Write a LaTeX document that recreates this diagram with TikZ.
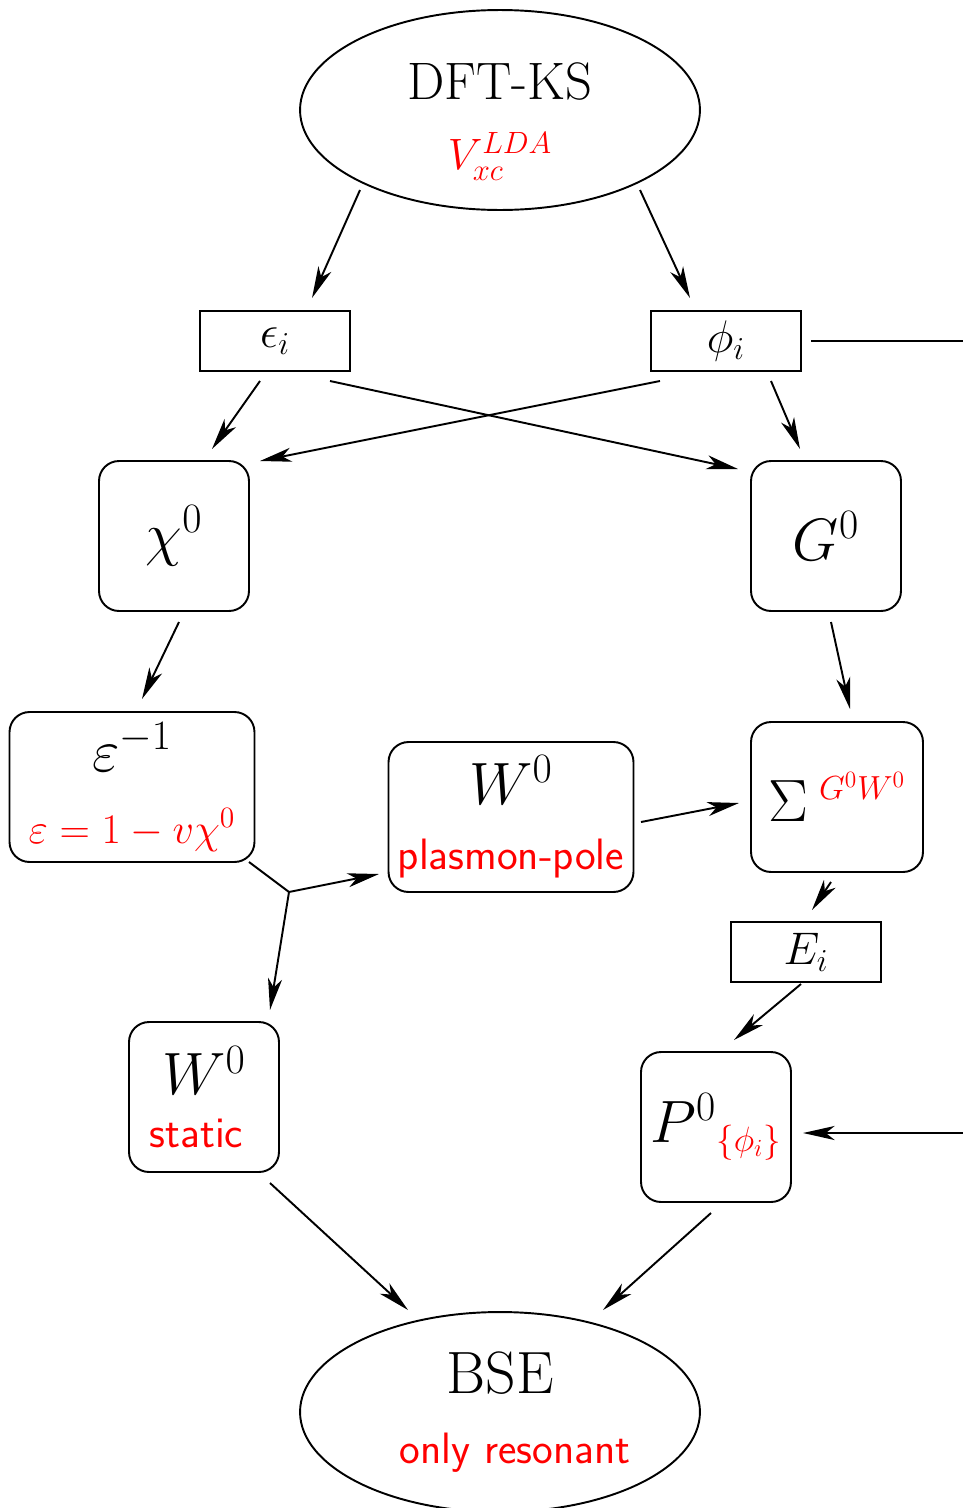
\documentclass[tikz,border=0pt]{standalone}
\usepackage{fix-cm}
\usepackage{xcolor}
\usepackage{tikz}
\usepackage{amsmath}
\usepackage{amssymb}
\usetikzlibrary{arrows.meta,calc,shapes.geometric}

\newcommand{\redsub}[2]{\mbox{\fontsize{#1}{#1}\selectfont\color{red}$#2$}}
\newcommand{\rtext}[1]{{\color{red}\fontsize{25}{25}\sffamily\selectfont #1}}

\begin{document}
\begin{tikzpicture}[
  x=0.02cm,y=-0.02cm,
  line width=1.1pt,
  >={Stealth[length=18pt,width=8pt,inset=5pt]},
  stage/.style={ellipse,draw,minimum width=8cm,minimum height=4cm,inner sep=0pt,align=center,font=\fontsize{30}{40}\selectfont},
  qty/.style={draw,minimum width=3cm,minimum height=1.2cm,inner sep=0pt,font=\fontsize{26}{30}\selectfont},
  op/.style={draw,rounded corners=0.4cm,minimum width=3cm,minimum height=3cm,inner sep=0pt,align=center,font=\fontsize{34}{37}\selectfont},
  line/.style={->}
]
\useasboundingbox (0,0) rectangle (963,1508);

% ---- stages ----
\node[stage] (dft) at (500,110) {\rule{0pt}{34pt}DFT-KS\\{\color{red}\fontsize{25}{25}\selectfont$V_{xc}^{LDA}$}};
\node[stage,font=\fontsize{34}{40}\selectfont] (bse) at (500,1412) {BSE\\\hspace*{0.6cm}\rtext{only resonant}};

% ---- KS quantities ----
\node[qty] (eps) at (275,341) {$\epsilon_i$};
\node[qty] (phi) at (726,341) {$\phi_i$};
\node[qty] (ener) at (806,952) {$E_i$};

% ---- operators ----
\node[op] (chi) at (174,536) {$\chi^0$};
\node[op] (gf) at (826,536) {$G^0$};
\node[op,minimum width=4.9cm,font=\fontsize{34}{41}\selectfont] (epsinv) at (132,787)
  {$\varepsilon^{-1}$\\{\color{red}\fontsize{24}{24}\selectfont$\varepsilon=1-v\chi^0$}};
\node[op,minimum width=4.9cm,font=\fontsize{34}{37}\selectfont] (wpp) at (511,817) {$W^0$\\\rtext{plasmon-pole}};
\node[op,minimum width=3.44cm] (sig) at (837,797) {$\Sigma^{\redsub{19}{\mkern6mu G^0W^0}}$};
\node[op,font=\fontsize{34}{30}\selectfont] (wst) at (204,1097) {$W^0$\\\rtext{static}\hspace*{0.3cm}};
\node[op] (pol) at (716,1127) {$P^0{}_{\redsub{20}{\{\phi_i\}}}$};

% ---- DFT outputs ----
\draw[line] ($(dft)+(-140,80)$) -- ($(eps)+(37,-43)$);
\draw[line] ($(dft)+(140,80)$) -- ($(phi)+(-36,-43)$);

% ---- into chi0 and G0 ----
\draw[line] ($(eps)+(-15,40)$) -- ($(chi)+(38,-87)$);
\draw[line] ($(eps)+(55,40)$) -- ($(gf)+(-88,-67)$);
\draw[line] ($(phi)+(-66,40)$) -- ($(chi)+(86,-75)$);
\draw[line] ($(phi)+(45,40)$) -- ($(gf)+(-26,-87)$);

% ---- screening / self-energy ----
\draw[line] ($(chi)+(5,86)$) -- ($(epsinv)+(10,-88)$);
\draw[line] ($(gf)+(5,86)$) -- ($(sig)+(13,-88)$);
\draw[line] ($(wpp)+(130,5)$) -- ($(sig)+(-98,6)$);

% ---- split of W ----
\coordinate (split) at ($(epsinv)+(157,105)$);
\draw ($(epsinv)+(117,75)$) -- (split);
\draw[line] (split) -- ($(wpp)+(-132,57)$);
\draw[line] (split) -- ($(wst)+(66,-87)$);

% ---- quasiparticle energies ----
\draw[line] ($(sig)+(-6,85)$) -- ($(ener)+(6,-42)$);
\draw[line] ($(ener)+(-5,32)$) -- ($(pol)+(18,-87)$);

% ---- orbitals loop (right edge) ----
\coordinate (loopout) at (963,341);
\coordinate (loopin) at (963,1133);
\draw ($(phi)+(85,0)$) -- (loopout);
\draw[line] (loopin) -- ($(pol)+(87,6)$);

% ---- into BSE ----
\draw[line] ($(wst)+(66,86)$) -- ($(bse)+(-92,-102)$);
\draw[line] ($(pol)+(-5,86)$) -- ($(bse)+(103,-102)$);

\end{tikzpicture}
\end{document}
